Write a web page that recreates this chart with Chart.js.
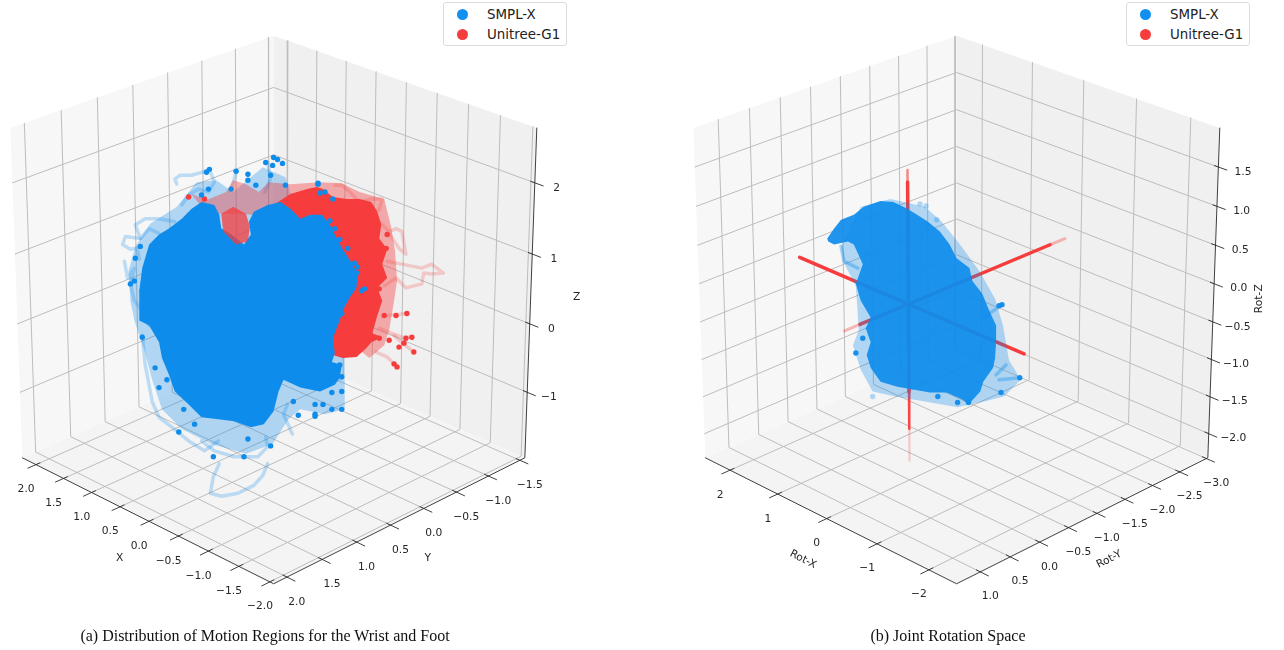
<!DOCTYPE html>
<html lang="en">
<head>
<meta charset="UTF-8">
<title>Motion Regions and Joint Rotation Space</title>
<style>
    body { margin: 0; background: #fff; width: 1284px; height: 650px; overflow: hidden; position: relative; }
    canvas { position: absolute; top: 0; filter: blur(0.35px); }
    #chartA { left: 0; }
    #chartB { left: 642px; }
    .legend {
        position: absolute; top: 2px; width: 124px; height: 44px; box-sizing: border-box;
        background: #fff; border: 1px solid #dcdcdc; border-radius: 3px;
        font: 13.4px "DejaVu Sans", sans-serif; color: #222;
    }
    .legend div { position: absolute; left: 43px; white-space: nowrap; line-height: 16px; }
    .legend span { position: absolute; left: -30px; top: 2px; width: 11px; height: 11px; border-radius: 50%; }
    .caption {
        position: absolute; top: 627px; text-align: center; color: #111;
        font: 16px "Liberation Serif", serif; white-space: nowrap;
    }
</style>
</head>
<body>
<canvas id="chartA" width="642" height="650"></canvas>
<canvas id="chartB" width="642" height="650"></canvas>

<div class="legend" style="left:443px"><div style="top:4px"><span style="background:#1090f0"></span>SMPL-X</div><div style="top:24px"><span style="background:#f63c3c"></span>Unitree-G1</div></div>
<div class="legend" style="left:1126px"><div style="top:4px"><span style="background:#1090f0"></span>SMPL-X</div><div style="top:24px"><span style="background:#f63c3c"></span>Unitree-G1</div></div>

<div class="caption" style="left:0;width:530px">(a) Distribution of Motion Regions for the Wrist and Foot</div>
<div class="caption" style="left:748px;width:400px">(b) Joint Rotation Space</div>

<script src="https://cdn.jsdelivr.net/npm/chart.js"></script>
<script>
// axis limits and ticks, panel (a)
const xLimA = [-2.06, 2.25], yLimA = [-1.58, 2.187], zLimA = [-1.975, 2.756];
const xTicksA = [2, 1.5, 1, 0.5, 0, -0.5, -1, -1.5, -2];
const xLabelsA = ['2.0', '1.5', '1.0', '0.5', '0.0', '−0.5', '−1.0', '−1.5', '−2.0'];
const yTicksA = [2, 1.5, 1, 0.5, 0, -0.5, -1, -1.5];
const yLabelsA = ['2.0', '1.5', '1.0', '0.5', '0.0', '−0.5', '−1.0', '−1.5'];
const zTicksA = [2, 1, 0, -1];
const zLabelsA = ['2', '1', '0', '−1'];

// axis limits and ticks, panel (b)
const xLimB = [-2.523, 2.53], yLimB = [-3.028, 1.391], zLimB = [-2.33, 1.99];
const xTicksB = [2, 1, 0, -1, -2];
const xLabelsB = ['2', '1', '0', '−1', '−2'];
const yTicksB = [1, 0.5, 0, -0.5, -1, -1.5, -2, -2.5, -3];
const yLabelsB = ['1.0', '0.5', '0.0', '−0.5', '−1.0', '−1.5', '−2.0', '−2.5', '−3.0'];
const zTicksB = [1.5, 1, 0.5, 0, -0.5, -1, -1.5, -2];
const zLabelsB = ['1.5', '1.0', '0.5', '0.0', '−0.5', '−1.0', '−1.5', '−2.0'];

// Unitree-G1 joint rotations run along the three axes, panel (b)
const g1RotX = [2.2, -2.2];
const g1RotY = [0.8, -2.46];
const g1RotYFaint = [[0.8, 1.05], [-2.46, -2.73]];
const g1RotZ = [1.55, -1.15];
const g1RotZThin = [[1.55, 1.7], [-1.15, -1.64]];
const g1RotZFaint = [-1.64, -2.07];

// clouds, in view plane units (across, up)
const blueBodyA = [[-1.36,.06],[-1.36,-.24],[-1.26,-.29],[-1.16,-.46],[-1.13,-.62],[-1.06,-.79],[-1,-.96],[-.86,-1.09],[-.73,-1.22],[-.56,-1.24],[-.4,-1.26],[-.23,-1.32],[-.1,-1.29],[0,-1.16],[.05,-.96],[.1,-.84],[.27,-.92],[.47,-.96],[.62,-.89],[.67,-.82],[.69,-.69],[.59,-.66],[.62,-.57],[.6,-.42],[.67,-.24],[.7,-.14],[.77,-.01],[.84,.09],[.85,.23],[.8,.33],[.7,.48],[.62,.63],[.57,.73],[.49,.83],[.37,.83],[.27,.79],[.17,.89],[.07,.96],[-.06,.93],[-.2,.86],[-.25,.76],[-.23,.63],[-.3,.53],[-.43,.63],[-.53,.69],[-.55,.83],[-.6,.93],[-.73,.96],[-.83,.89],[-.93,.79],[-1.06,.69],[-1.16,.63],[-1.26,.53],[-1.33,.29]];
const blueHaloA = [[-1.45,-.04],[-1.47,.26],[-1.4,.51],[-1.25,.74],[-.98,.91],[-.78,1.16],[-.58,1.18],[-.41,1.06],[-.11,1.31],[.12,1.21],[.19,.98],[.57,.86],[.72,-.34],[.72,-.89],[.72,-1.14],[.52,-1.19],[.27,-1.14],[.15,-1.24],[-.01,-1.49],[-.28,-1.59],[-.63,-1.49],[-.93,-1.34],[-1.13,-1.14],[-1.23,-.84],[-1.31,-.54],[-1.41,-.24]];
const redBodyA = [[.27,-.04],[-.03,.91],[.17,1.04],[.34,1.09],[.44,1.11],[.5,1.09],[.6,1.01],[.74,.99],[.87,.99],[.99,.96],[1.05,.86],[1.09,.73],[1.07,.59],[1.15,.48],[1.1,.33],[1.15,.19],[1.05,.09],[1.1,-.04],[1.05,-.19],[1,-.37],[1.1,-.41],[.99,-.46],[.94,-.52],[.84,-.61],[.7,-.62],[.6,-.59]];
const redHaloA = [[-.83,1.04],[-.68,.98],[-.48,1.06],[-.41,1.18],[-.28,1.14],[-.15,1.06],[-.05,1.16],[.17,1.14],[.47,1.16],[.69,1.15],[.87,1.06],[1.12,.99],[1.19,.71],[1.23,.46],[1.25,.16],[1.22,-.04],[1.17,-.34],[1.12,-.49],[.97,-.62],[.27,-.04],[-.03,.81],[-.33,.84],[-.68,.84]];
const redPatchA = [[-.53,.84],[-.41,.91],[-.28,.84],[-.24,.71],[-.26,.56],[-.38,.53],[-.51,.66]];
const blueTrailsA = [
    [[-.98,1.14],[-1,1.19],[-.95,1.23],[-.83,1.23],[-.73,1.26],[-.65,1.29],[-.6,1.16],[-.66,1.06],[-.76,1.09],[-.86,1.03],[-.93,.93]],
    [[-1,.76],[-1.16,.79],[-1.3,.79],[-1.4,.73],[-1.35,.59],[-1.26,.69],[-1.16,.64]],
    [[-1.35,.59],[-1.5,.61],[-1.53,.53],[-1.45,.48],[-1.38,.49],[-1.36,.38]],
    [[-1.51,.36],[-1.48,.19],[-1.41,.29],[-1.45,.13],[-1.41,-.04],[-1.33,-.14],[-1.26,-.29]],
    [[-1.33,-.39],[-1.3,-.69],[-1.23,-1.06],[-1.16,-1.22],[-1.03,-1.32],[-.86,-1.46],[-.7,-1.56],[-.56,-1.46]],
    [[-.55,-1.69],[-.61,-1.82],[-.64,-1.99],[-.53,-2.02],[-.36,-1.99],[-.2,-1.91],[-.11,-1.81],[-.06,-1.69]],
    [[-.73,-1.46],[-.6,-1.56],[-.4,-1.62],[-.16,-1.62],[-.06,-1.52],[-.08,-1.42]],
    [[.14,-1.09],[.1,-1.19],[.19,-1.39]],
    [[-.43,1.09],[-.4,1.19],[-.38,1.26]],
    [[-.06,1.36],[-.03,1.19],[-.09,1.06]]
];
const redTrailsA = [
    [[.62,1.13],[.69,1.13],[.77,1.06],[.87,.96],[.99,.99],[1.1,.99],[1.07,.88],[.99,.83]],
    [[1.07,.76],[1.17,.66],[1.24,.69],[1.3,.66],[1.34,.43],[1.27,.49],[1.17,.64]],
    [[1.15,.36],[1.3,.33],[1.5,.29],[1.6,.33],[1.72,.24],[1.6,.23],[1.52,.24],[1.5,.13],[1.34,.09],[1.24,.19],[1.12,.11]],
    [[1.04,-.56],[1.15,-.61],[1.25,-.71]],
    [[1.22,-.39],[1.27,-.44],[1.42,-.56]],
    [[1.07,-.32],[1.3,-.41],[1.4,-.41]],
    [[1.15,-.19],[1.35,-.17]]
];
const blueDotsA = [[-.65,1.29],[-.68,1.26],[-.38,1.27],[-.26,1.24],[-.26,1.18],[0,1.41],[.04,1.39],[.09,1.35],[-.01,1.33],[-.03,1.23],[.12,1.13],[.45,1.14],[-.18,1.13],[-.43,1.09],[-.66,1.09],[-.73,1.03],[-.08,1.36],[-1.35,.51],[-1.4,.39],[-1.45,.13],[-1.33,.06],[-1.41,.16],[-1.33,-.41],[-1.2,-.72],[-1.16,-.92],[-1.08,-.84],[-.91,-1.14],[-.8,-1.29],[-.96,-1.37],[-.61,-1.62],[-.3,-1.62],[-.26,-1.44],[-.03,-1.51],[.2,-1.06],[.25,-1.2],[.42,-1.21],[.42,-1.09],[.67,-.69],[.69,-.81],[.69,-.96],[.59,-.97],[.69,-1.14],[.59,-1.14],[.5,-1.09],[.42,-1.19],[.45,1.15],[.52,1.06],[.47,1.05],[.6,.99],[.57,.77],[.62,.69],[.54,.68],[.67,.58],[.75,.49],[.82,.34],[.85,.3],[.77,.29],[.84,.24],[.92,.08],[.89,.06],[.7,-.04],[.69,-.17]];
const redDotsA = [[1.4,-.41],[1.42,-.56],[1.25,-.71],[1.22,-.68],[1.27,-.51],[1.32,-.47],[1.34,-.42],[1.07,-.42],[1.17,-.44],[1.35,-.17],[1.12,-.19],[1.24,-.19],[1.14,.49],[1.15,.63],[1.07,.08],[-.86,1.01],[-.7,.99]];

const blueBodyB = [[-1.31,.59],[-1.24,.69],[-1.17,.78],[-1.04,.83],[-.94,.91],[-.77,.97],[-.64,.96],[-.5,.89],[-.4,.83],[-.29,.76],[-.17,.66],[-.07,.53],[0,.39],[.13,.29],[.16,.16],[.26,.03],[.33,-.14],[.4,-.29],[.4,-.46],[.39,-.62],[.37,-.72],[.27,-.86],[.24,-.96],[.12,-1.09],[.06,-1.04],[-.1,-.97],[-.27,-.97],[-.44,-.94],[-.6,-.91],[-.77,-.86],[-.87,-.72],[-.91,-.59],[-.87,-.46],[-.92,-.32],[-.87,-.21],[-.97,-.04],[-1.02,.13],[-.95,.33],[-1.04,.53],[-1.1,.56],[-1.24,.53],[-1.3,.56]];
const blueHaloB = [[-1.17,.51],[-1.14,.34],[-1.02,.11],[-.99,-.34],[-1.05,-.49],[-.97,-.74],[-.85,-.96],[-.62,-1.01],[-.32,-1.06],[.01,-1.12],[.28,-1.06],[.48,-1.01],[.65,-.84],[.53,-.64],[.47,-.29],[.39,-.02],[.23,.26],[.05,.51],[-.15,.76],[-.32,.91],[-.67,.99],[-.97,.91]];
const blueTrailsB = [
    [[.27,-.21],[.45,-.09]],
    [[-1.17,.51],[-1.14,.36],[-1,.29]],
    [[.4,-.79],[.5,-.69]],
    [[.43,-.84],[.64,-.82]]
];
const blueDotsB = [[.64,-.82],[.45,-.97],[.12,-1.07],[.01,-1.07],[-.95,-.42],[-1.02,-.57],[-.19,-1.01],[.43,-.09],[.46,-.08]];
const blueSpecksB = [[-.37,.94],[-.31,.92],[-.2,.78],[-.85,-1.01]];

const blue = a => `rgba(14,140,236,${a})`;
const red = a => `rgba(246,60,60,${a})`;

// matplotlib style camera: elevation 25, azimuth 135, cube box
const el = 25 * Math.PI / 180;
const az = 135 * Math.PI / 180;
const viewScale = 33.47;

function project(lims, p) {
    const d = p.map((v, i) => ((v - lims[i][0]) / (lims[i][1] - lims[i][0]) - 0.5) * 1.1);
    const [wx, wy, wz] = [Math.cos(el) * Math.cos(az), Math.cos(el) * Math.sin(az), Math.sin(el)];
    const [ux, uy] = [-wy / Math.cos(el), wx / Math.cos(el)];
    const [vx, vy, vz] = [wy * 0 - wz * uy, wz * ux, wx * uy - wy * ux];
    const across = ux * d[0] + uy * d[1];
    const up = vx * d[0] + vy * d[1] + vz * d[2];
    const depth = 10 - (wx * d[0] + wy * d[1] + wz * d[2]);
    return { x: viewScale * across / depth, y: viewScale * up / depth };
}

const toPoints = list => list.map(p => ({ x: p[0], y: p[1] }));

function polyline(data, color, width) {
    return { data, showLine: true, borderColor: color, borderWidth: width, pointRadius: 0, fill: false, borderCapStyle: 'round', borderJoinStyle: 'round' };
}
function polygon(data, color) {
    return { data, showLine: true, borderWidth: 0, borderColor: color, backgroundColor: color, pointRadius: 0, fill: 'shape' };
}
function dots(data, color, radius) {
    return { data, showLine: false, pointRadius: radius, pointBackgroundColor: color, pointBorderWidth: 0 };
}

// walls, grid, axis lines and ticks of a 3D box
function boxDatasets(cfg) {
    const lims = [cfg.xLim, cfg.yLim, cfg.zLim];
    const [x0, x1] = cfg.xLim, [y0, y1] = cfg.yLim, [z0, z1] = cfg.zLim;
    const P = (x, y, z) => project(lims, [x, y, z]);
    const xr = x1 - x0, yr = y1 - y0;
    const gridColor = '#bdbdbd', axisColor = '#2a2a2a';
    const out = [
        polygon([P(x1, y0, z0), P(x1, y1, z0), P(x1, y1, z1), P(x1, y0, z1)], '#f7f7f7'),
        polygon([P(x1, y0, z0), P(x0, y0, z0), P(x0, y0, z1), P(x1, y0, z1)], '#f0f0f0'),
        polygon([P(x1, y0, z0), P(x1, y1, z0), P(x0, y1, z0), P(x0, y0, z0)], '#f4f4f4')
    ];
    cfg.xTicks.forEach(t => out.push(polyline([P(t, y0, z1), P(t, y0, z0), P(t, y1, z0)], gridColor, 1)));
    cfg.yTicks.forEach(t => out.push(polyline([P(x1, t, z1), P(x1, t, z0), P(x0, t, z0)], gridColor, 1)));
    cfg.zTicks.forEach(t => out.push(polyline([P(x1, y1, t), P(x1, y0, t), P(x0, y0, t)], gridColor, 1)));
    out.push(polyline([P(x1, y1, z0), P(x0, y1, z0), P(x0, y0, z0), P(x0, y0, z1)], axisColor, 0.9));
    cfg.xTicks.forEach(t => out.push(polyline([P(t, y1 - 0.015 * yr, z0), P(t, y1 + 0.03 * yr, z0)], axisColor, 0.9)));
    cfg.yTicks.forEach(t => out.push(polyline([P(x0 + 0.015 * xr, t, z0), P(x0 - 0.03 * xr, t, z0)], axisColor, 0.9)));
    cfg.zTicks.forEach(t => out.push(polyline([P(x0 + 0.015 * xr, y0, t), P(x0 - 0.03 * xr, y0, t)], axisColor, 0.9)));
    return out;
}

// tick labels and axis titles, placed through the chart's scales
function textPlugin(cfg) {
    const lims = [cfg.xLim, cfg.yLim, cfg.zLim];
    const [x0, x1] = cfg.xLim, [y0, y1] = cfg.yLim, [z0] = cfg.zLim;
    return {
        id: 'boxText',
        afterDraw(chart) {
            const { ctx, scales } = chart;
            const put = (at, text, dx, dy, rot) => {
                ctx.save();
                ctx.translate(scales.x.getPixelForValue(at.x + dx), scales.y.getPixelForValue(at.y + dy));
                ctx.rotate((rot || 0) * Math.PI / 180);
                ctx.font = '10.7px "DejaVu Sans", sans-serif';
                ctx.fillStyle = '#262626';
                ctx.textAlign = 'center';
                ctx.textBaseline = 'middle';
                ctx.fillText(text, 0, 0);
                ctx.restore();
            };
            cfg.xTicks.forEach((t, i) => put(project(lims, [t, y1, z0]), cfg.xLabels[i], -0.1, -0.25));
            cfg.yTicks.forEach((t, i) => put(project(lims, [x0, t, z0]), cfg.yLabels[i], 0.1, -0.25));
            cfg.zTicks.forEach((t, i) => put(project(lims, [x0, y0, t]), cfg.zLabels[i], cfg.zLabelGap, -0.05));
            cfg.titles.forEach(t => put({ x: t[1], y: t[2] }, t[0], 0, 0, t[3]));
        }
    };
}

function drawPanel(id, cfg, marks) {
    // first dataset is painted on top in Chart.js, so flip the bottom-up list
    const datasets = boxDatasets(cfg).concat(marks).reverse();
    return new Chart(document.getElementById(id), {
        type: 'scatter',
        data: { datasets },
        options: {
            responsive: false,
            animation: false,
            events: [],
            layout: { padding: 0 },
            plugins: { legend: { display: false }, tooltip: { enabled: false } },
            scales: {
                x: { type: 'linear', display: false, min: cfg.xView[0], max: cfg.xView[1] },
                y: { type: 'linear', display: false, min: -3.536, max: 2.964 }
            }
        },
        plugins: [textPlugin(cfg)]
    });
}

drawPanel('chartA', {
    xLim: xLimA, yLim: yLimA, zLim: zLimA, xView: [-2.73, 3.69],
    xTicks: xTicksA, xLabels: xLabelsA, yTicks: yTicksA, yLabels: yLabelsA, zTicks: zTicksA, zLabels: zLabelsA,
    zLabelGap: 0.22,
    titles: [['X', -1.56, -2.65, 0], ['Y', 1.56, -2.65, 0], ['Z', 3.07, 0, 0]]
}, [
    polygon(toPoints(blueHaloA), blue(0.3)),
    ...blueTrailsA.map(t => polyline(toPoints(t), blue(0.25), 3.5)),
    polygon(toPoints(redHaloA), red(0.4)),
    ...redTrailsA.map(t => polyline(toPoints(t), red(0.22), 3.5)),
    polygon(toPoints(redBodyA), red(1)),
    dots(toPoints(redDotsA), red(1), 2.7),
    polygon(toPoints(blueBodyA), blue(1)),
    polygon(toPoints(redPatchA), red(0.75)),
    dots(toPoints(blueDotsA), blue(1), 2.7)
]);

const limsB = [xLimB, yLimB, zLimB];
const alongX = v => project(limsB, [v, 0, 0]);
const alongY = v => project(limsB, [0, v, 0]);
const alongZ = v => project(limsB, [0, 0, v]);

drawPanel('chartB', {
    xLim: xLimB, yLim: yLimB, zLim: zLimB, xView: [-3.145, 3.275],
    xTicks: xTicksB, xLabels: xLabelsB, yTicks: yTicksB, yLabels: yLabelsB, zTicks: zTicksB, zLabels: zLabelsB,
    zLabelGap: 0.25,
    titles: [['Rot-X', -1.555, -2.66, 27], ['Rot-Y', 1.545, -2.66, -27], ['Rot-Z', 3.065, -0.02, -90]]
}, [
    polyline(g1RotZFaint.map(alongZ), red(0.25), 2),
    polyline(g1RotZThin[0].map(alongZ), red(0.6), 2.5),
    polyline(g1RotZThin[1].map(alongZ), red(0.95), 2.5),
    polyline(g1RotZ.map(alongZ), red(1), 3.5),
    polyline(g1RotYFaint[0].map(alongY), red(0.35), 3),
    polyline(g1RotYFaint[1].map(alongY), red(0.35), 3),
    polyline(g1RotY.map(alongY), red(1), 3.5),
    polyline(g1RotX.map(alongX), red(1), 3.5),
    polygon(toPoints(blueHaloB), blue(0.3)),
    ...blueTrailsB.map(t => polyline(toPoints(t), blue(0.35), 3.5)),
    polygon(toPoints(blueBodyB), blue(0.92)),
    dots(toPoints(blueSpecksB), blue(0.3), 2.7),
    dots(toPoints(blueDotsB), blue(0.95), 2.7)
]);
</script>
</body>
</html>
